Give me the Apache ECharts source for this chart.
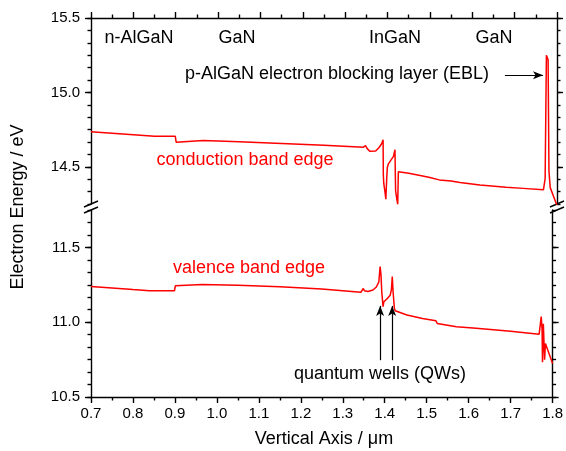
<!DOCTYPE html>
<html>
<head>
<meta charset="utf-8">
<script src="https://cdn.jsdelivr.net/npm/echarts@6/dist/echarts.min.js"></script>
<style>
  html, body { margin: 0; padding: 0; background: #fff; }
  #bands { width: 566px; height: 451px; }
</style>
</head>
<body>
<div id="bands"></div>
<script>
  // band edges: [position (um), energy (eV)]
  var conductionBand = [
    [0.70, 14.735], [0.75, 14.725], [0.80, 14.715], [0.85, 14.705], [0.899, 14.705],
    [0.901, 14.665], [0.965, 14.676], [1.05, 14.668], [1.15, 14.657], [1.25, 14.645],
    [1.343, 14.632], [1.348, 14.642], [1.352, 14.622], [1.358, 14.605], [1.372, 14.606],
    [1.380, 14.63], [1.386, 14.655], [1.3895, 14.682], [1.390, 14.45], [1.391, 14.39],
    [1.394, 14.33], [1.396, 14.282], [1.398, 14.42], [1.3995, 14.495], [1.402, 14.52],
    [1.408, 14.545], [1.414, 14.57], [1.4175, 14.615], [1.419, 14.34], [1.421, 14.30],
    [1.424, 14.248], [1.4255, 14.466], [1.428, 14.47], [1.45, 14.456], [1.48, 14.44],
    [1.50, 14.428], [1.522, 14.412], [1.525, 14.422], [1.55, 14.405], [1.571, 14.394],
    [1.618, 14.378], [1.68, 14.362], [1.72, 14.355], [1.768, 14.345], [1.772, 14.42],
    [1.775, 15.25], [1.779, 15.22], [1.781, 14.47], [1.784, 14.36], [1.80, 14.24]
  ];
  var valenceBand = [
    [0.70, 11.238], [0.75, 11.228], [0.80, 11.218], [0.839, 11.211], [0.899, 11.211],
    [0.901, 11.243], [0.965, 11.252], [1.05, 11.247], [1.15, 11.237], [1.25, 11.222],
    [1.343, 11.200], [1.347, 11.209], [1.349, 11.225], [1.352, 11.210], [1.360, 11.205],
    [1.372, 11.215], [1.380, 11.235], [1.386, 11.27], [1.389, 11.372], [1.391, 11.32],
    [1.393, 11.20], [1.396, 11.104], [1.398, 11.137], [1.405, 11.155], [1.413, 11.18],
    [1.416, 11.22], [1.418, 11.305], [1.420, 11.20], [1.423, 11.093], [1.425, 11.077],
    [1.453, 11.048], [1.49, 11.025], [1.522, 11.01], [1.525, 10.992], [1.571, 10.97],
    [1.618, 10.959], [1.70, 10.94], [1.768, 10.92], [1.773, 11.037], [1.775, 10.95],
    [1.776, 10.732], [1.778, 10.99], [1.780, 10.993], [1.781, 10.75], [1.783, 10.858],
    [1.80, 10.724]
  ];
  var upperTicks = [14.5, 15.0, 15.5];
  var lowerTicks = [10.5, 11.0, 11.5];
  var eblArrow = [[1.677, 15.115], [1.767, 15.115]];
  var qwArrows = [
    [[1.389, 10.746], [1.389, 11.109]],
    [[1.4177, 10.746], [1.4177, 11.109]]
  ];

  var FONT = "'Liberation Sans', Arial, sans-serif";
  var black = '#000';

  function xAxisOf(grid, pos, labels) {
    return {
      type: 'value', gridIndex: grid, position: pos, min: 0.7, max: 1.8, interval: 0.1,
      axisLine: { onZero: false, lineStyle: { color: black, width: 1.4 } },
      axisTick: { show: true, inside: false, length: 6, lineStyle: { color: black, width: 1.4 } },
      minorTick: { show: true, splitNumber: 2, length: 3.5, lineStyle: { color: black, width: 1.4 } },
      axisLabel: {
        show: labels, color: black, fontFamily: FONT, fontSize: 15, margin: 9,
        formatter: function (v) { return v.toFixed(1); }
      },
      splitLine: { show: false }, minorSplitLine: { show: false }
    };
  }

  function yMajor(grid, pos, min, max, ticks, labels) {
    return {
      type: 'value', gridIndex: grid, position: pos, min: min, max: max,
      axisLine: { show: true, onZero: false, lineStyle: { color: black, width: 1.4 } },
      axisTick: { show: true, inside: false, length: 6, customValues: ticks, lineStyle: { color: black, width: 1.4 } },
      axisLabel: {
        show: labels, customValues: ticks, color: black, fontFamily: FONT, fontSize: 15, margin: 11,
        formatter: function (v) { return v.toFixed(1); }
      },
      splitLine: { show: false }
    };
  }

  function yMinor(grid, pos, min, max) {
    return {
      type: 'value', gridIndex: grid, position: pos, min: min, max: max, interval: 1 / 12,
      axisLine: { show: false },
      axisTick: { show: true, inside: false, length: 3.5, lineStyle: { color: black, width: 1.4 } },
      axisLabel: { show: false },
      splitLine: { show: false }
    };
  }

  var arrowLine = {
    silent: true, symbol: ['none', 'arrow'], symbolSize: [6, 10],
    lineStyle: { color: black, width: 1.2, type: 'solid' },
    itemStyle: { color: black },
    label: { show: false }, emphasis: { disabled: true }, animation: false
  };

  var txt = function (s, x, y, color) {
    return {
      type: 'text', x: x, y: y, silent: true,
      style: { text: s, fill: color || black, font: '18px ' + FONT, align: 'center', verticalAlign: 'middle' }
    };
  };
  var brk = function (x1, y1, x2, y2) {
    return { type: 'line', silent: true, shape: { x1: x1, y1: y1, x2: x2, y2: y2 }, style: { stroke: black, lineWidth: 1.4 } };
  };

  var option = {
    animation: false,
    backgroundColor: '#fff',
    grid: [
      { left: 91, right: 9, top: 18, height: 186 },
      { left: 91, right: 9, top: 210, height: 187 }
    ],
    xAxis: [
      xAxisOf(0, 'top', false),
      xAxisOf(1, 'bottom', true)
    ],
    yAxis: [
      yMajor(0, 'left', 14.25, 15.5, upperTicks, true),
      yMinor(0, 'left', 14.25, 15.5),
      yMajor(0, 'right', 14.25, 15.5, upperTicks, false),
      yMinor(0, 'right', 14.25, 15.5),
      yMajor(1, 'left', 10.5, 11.75, lowerTicks, true),
      yMinor(1, 'left', 10.5, 11.75),
      yMajor(1, 'right', 10.5, 11.75, lowerTicks, false),
      yMinor(1, 'right', 10.5, 11.75)
    ],
    series: [
      {
        name: 'conduction band edge', type: 'line', xAxisIndex: 0, yAxisIndex: 0,
        data: conductionBand, showSymbol: false, clip: true,
        lineStyle: { color: '#ff0000', width: 1.5 },
        markLine: Object.assign({ data: [[{ coord: eblArrow[0] }, { coord: eblArrow[1] }]] }, arrowLine)
      },
      {
        name: 'valence band edge', type: 'line', xAxisIndex: 1, yAxisIndex: 4,
        data: valenceBand, showSymbol: false, clip: true,
        lineStyle: { color: '#ff0000', width: 1.5 },
        markLine: Object.assign({
          data: qwArrows.map(function (a) { return [{ coord: a[0] }, { coord: a[1] }]; })
        }, arrowLine)
      }
    ],
    graphic: [
      txt('n-AlGaN', 139, 38),
      txt('GaN', 237, 38),
      txt('InGaN', 395, 38),
      txt('GaN', 494, 38),
      txt('p-AlGaN electron blocking layer (EBL)', 337, 74),
      txt('conduction band edge', 245, 160, '#ff0000'),
      txt('valence band edge', 249, 268, '#ff0000'),
      txt('quantum wells (QWs)', 380, 374),
      txt('Vertical Axis / \u03bcm', 324, 439),
      {
        type: 'text', x: 18, y: 207, rotation: Math.PI / 2, silent: true,
        style: { text: 'Electron Energy / eV', fill: black, font: '18px ' + FONT, align: 'center', verticalAlign: 'middle' }
      },
      brk(84, 207, 98, 201),
      brk(84, 213, 98, 207),
      brk(550, 207, 564, 201),
      brk(550, 213, 564, 207)
    ]
  };

  var chart = echarts.init(document.getElementById('bands'));
  chart.setOption(option);
</script>
</body>
</html>
